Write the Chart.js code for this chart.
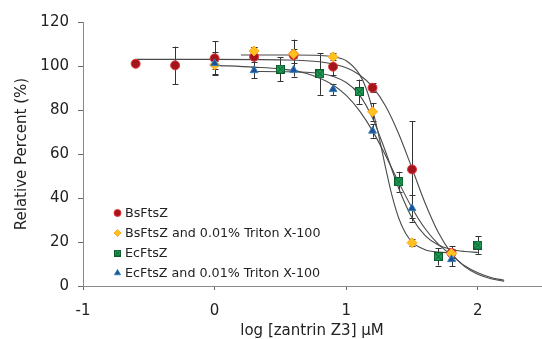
<!DOCTYPE html>
<html>
<head>
<meta charset="utf-8">
<script src="https://cdn.jsdelivr.net/npm/chart.js@4.4.1/dist/chart.umd.min.js"></script>
<style>
  body { margin: 0; background: #fff; }
  #wrap { width: 542px; height: 339px; }
</style>
</head>
<body>
<div id="wrap"><canvas id="chart" width="542" height="339"></canvas></div>
<script>
// measured points
const bsX = [-0.6, -0.3, 0, 0.3, 0.6, 0.9, 1.2, 1.5, 1.8];
const bsValues = [101, 100.3, 103.5, 104.2, 105, 99.7, 90.1, 53, 15];
const bsErrors = [0, 8.5, 7.7, 4.5, 7, 4, 2, 22, 3];

const bsTritonX = [0, 0.3, 0.6, 0.9, 1.2, 1.5, 1.8];
const bsTritonValues = [100.5, 106.8, 105.5, 104.2, 79.2, 19.7, 14.8];
const bsTritonErrors = [2, 2, 2, 1.5, 4, 1.5, 2];

const ecX = [0.5, 0.8, 1.1, 1.4, 1.7, 2.0];
const ecValues = [98.6, 96.4, 88.3, 47.4, 13.3, 18.6];
const ecErrors = [5.5, 9.5, 5.5, 4.5, 4, 4];

const ecTritonX = [0, 0.3, 0.6, 0.9, 1.2, 1.5, 1.8];
const ecTritonValues = [101.2, 98, 98.2, 89.4, 70.5, 35.3, 12.1];
const ecTritonErrors = [5, 3.6, 3, 2.5, 3, 6, 3];

// fitted curves
const bsCurveX = [-0.6, 0, 0.5, 0.8, 1.0, 1.1, 1.2, 1.3, 1.4, 1.5, 1.6, 1.7, 1.8, 1.9, 2.0, 2.1, 2.2];
const bsCurveY = [103, 103, 102.8, 101.9, 99.2, 96.0, 90.5, 81.7, 69.0, 53.5, 37.6, 24.3, 14.8, 8.8, 5.3, 3.3, 2.2];

const bsTritonCurveX = [0.2, 0.6, 0.8, 0.9, 1.0, 1.1, 1.15, 1.2, 1.25, 1.3, 1.35, 1.4, 1.45, 1.5, 1.6, 1.7, 1.8];
const bsTritonCurveY = [105, 105, 104.8, 104.2, 102.4, 96.3, 90, 80.2, 67.6, 53.5, 40.6, 30.7, 24.1, 20.1, 16.5, 15.4, 15.1];

const ecCurveX = [0.3, 0.5, 0.8, 1.0, 1.1, 1.2, 1.3, 1.4, 1.5, 1.6, 1.7, 1.8, 1.9, 2.0];
const ecCurveY = [97.5, 97.4, 96.6, 92.5, 86.9, 76.3, 60.9, 44.2, 31, 22.9, 18.6, 16.6, 15.7, 15.3];

const ecTritonCurveX = [0, 0.3, 0.5, 0.7, 0.9, 1.0, 1.1, 1.2, 1.3, 1.4, 1.5, 1.6, 1.7, 1.8, 1.9, 2.0, 2.1, 2.2];
const ecTritonCurveY = [100.3, 99.5, 98.7, 96.6, 91.4, 86.6, 79.7, 70.5, 59.2, 47, 35.5, 26, 19, 14, 9.2, 6, 3.9, 2.6];

const xTicks = [-1, 0, 1, 2];
const yTicks = [0, 20, 40, 60, 80, 100, 120];

const FONT = "'DejaVu Sans', Verdana, sans-serif";

// green square with an x in it
function makeBoxX(size) {
  const c = document.createElement("canvas");
  c.width = size; c.height = size;
  const g = c.getContext("2d");
  g.fillStyle = "#1f9a55";
  g.fillRect(0, 0, size, size);
  g.strokeStyle = "#0b5a2c";
  g.lineWidth = 1;
  g.strokeRect(0.5, 0.5, size - 1, size - 1);
  g.beginPath();
  g.moveTo(1.5, 1.5); g.lineTo(size - 1.5, size - 1.5);
  g.moveTo(size - 1.5, 1.5); g.lineTo(1.5, size - 1.5);
  g.stroke();
  return c;
}
const boxX = makeBoxX(9);
const boxXSmall = makeBoxX(7);

const toPts = (xs, ys) => xs.map((x, i) => ({ x: x, y: ys[i] }));

const series = [
  { label: "BsFtsZ", x: bsX, y: bsValues, err: bsErrors, style: "circle", fill: "#a3141c", border: "#e0383c", radius: 4.5, order: 4 },
  { label: "BsFtsZ and 0.01% Triton X-100", x: bsTritonX, y: bsTritonValues, err: bsTritonErrors, style: "rectRot", fill: "#ffc21a", border: "#ffa526", radius: 5, order: 3 },
  { label: "EcFtsZ", x: ecX, y: ecValues, err: ecErrors, style: boxX, fill: "#1f9a55", border: "#0b5a2c", radius: 4.5, order: 1 },
  { label: "EcFtsZ and 0.01% Triton X-100", x: ecTritonX, y: ecTritonValues, err: ecTritonErrors, style: "triangle", fill: "#1f4f96", border: "#2f7fb8", radius: 4.5, order: 2 },
];

const curves = [
  toPts(bsCurveX, bsCurveY),
  toPts(bsTritonCurveX, bsTritonCurveY),
  toPts(ecCurveX, ecCurveY),
  toPts(ecTritonCurveX, ecTritonCurveY),
];

const datasets = [];
series.forEach((s) => {
  datasets.push({
    label: s.label,
    data: toPts(s.x, s.y),
    showLine: false,
    pointStyle: s.style,
    pointRadius: s.radius,
    pointBackgroundColor: s.fill,
    pointBorderColor: s.border,
    pointBorderWidth: 1,
    order: s.order,
  });
});
curves.forEach((pts) => {
  datasets.push({
    label: "",
    data: pts,
    showLine: true,
    pointRadius: 0,
    borderColor: "#4a4a4a",
    borderWidth: 1.1,
    tension: 0,
    cubicInterpolationMode: "monotone",
    order: 10,
  });
});

const errorBars = {
  id: "errorBars",
  beforeDatasetsDraw(chart) {
    const { ctx, scales } = chart;
    ctx.save();
    ctx.strokeStyle = "#333";
    ctx.lineWidth = 1;
    series.forEach((s) => {
      s.x.forEach((xv, i) => {
        const e = s.err[i];
        if (!e) return;
        const px = Math.round(scales.x.getPixelForValue(xv)) + 0.5;
        const top = scales.y.getPixelForValue(s.y[i] + e);
        const bot = scales.y.getPixelForValue(s.y[i] - e);
        ctx.beginPath();
        ctx.moveTo(px, top); ctx.lineTo(px, bot);
        ctx.moveTo(px - 3, Math.round(top) + 0.5); ctx.lineTo(px + 3, Math.round(top) + 0.5);
        ctx.moveTo(px - 3, Math.round(bot) + 0.5); ctx.lineTo(px + 3, Math.round(bot) + 0.5);
        ctx.stroke();
      });
    });
    ctx.restore();
  },
};

const innerLegend = {
  id: "innerLegend",
  afterDraw(chart) {
    const { ctx } = chart;
    ctx.save();
    ctx.font = "12.7px " + FONT;
    ctx.textBaseline = "middle";
    series.forEach((s, i) => {
      const y = 213 + i * 20;
      const style = s.style === boxX ? boxXSmall : s.style;
      ctx.fillStyle = s.fill;
      ctx.strokeStyle = s.border;
      ctx.lineWidth = 1;
      Chart.helpers.drawPoint(ctx, { pointStyle: style, radius: 3.5, borderWidth: 1 }, 117.5, y);
      ctx.fillStyle = "#222";
      ctx.fillText(s.label, 125, y + 0.5);
    });
    ctx.restore();
  },
};

new Chart(document.getElementById("chart"), {
  type: "scatter",
  data: { datasets },
  plugins: [errorBars, innerLegend],
  options: {
    responsive: false,
    animation: false,
    devicePixelRatio: 1,
    layout: { autoPadding: false, padding: { top: 22, right: 1, left: 0, bottom: 0 } },
    plugins: { legend: { display: false }, tooltip: { enabled: false } },
    scales: {
      x: {
        type: "linear",
        min: -1,
        max: 2.48,
        afterBuildTicks: (scale) => { scale.ticks = xTicks.map((v) => ({ value: v })); },
        afterFit: (scale) => { scale.height = 53; },
        border: { display: true, color: "#8a8a8a", width: 1 },
        grid: { drawOnChartArea: false, drawTicks: true, tickLength: 4, color: "#6a6a6a" },
        ticks: { color: "#222", padding: 12, font: { family: FONT, size: 15 } },
        title: { display: true, text: "log [zantrin Z3] μM", color: "#222", padding: { top: 0, bottom: 0 }, font: { family: FONT, size: 15, lineHeight: 1 } },
      },
      y: {
        type: "linear",
        min: 0,
        max: 120,
        afterBuildTicks: (scale) => { scale.ticks = yTicks.map((v) => ({ value: v })); },
        afterFit: (scale) => { scale.width = 83; },
        border: { display: true, color: "#8a8a8a", width: 1 },
        grid: { drawOnChartArea: false, drawTicks: true, tickLength: 5, color: "#6a6a6a" },
        ticks: { color: "#222", padding: 9, font: { family: FONT, size: 15 } },
        title: { display: true, text: "Relative Percent (%)", color: "#222", padding: { top: 13, bottom: 0 }, font: { family: FONT, size: 15 } },
      },
    },
  },
});
</script>
</body>
</html>
